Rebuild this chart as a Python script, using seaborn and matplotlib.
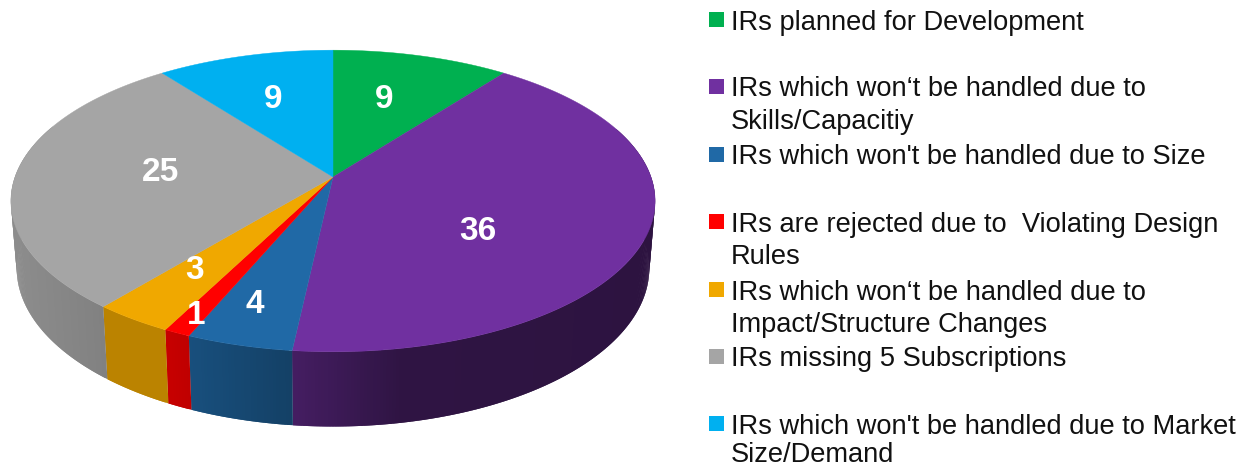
"""
Pie of IR handling outcomes, drawn as a tilted 3D disc with a legend on the right.
"""

import numpy as np
import matplotlib
matplotlib.use("Agg")
import matplotlib.pyplot as plt
from matplotlib.patches import Rectangle
import seaborn as sns

sns.set_theme(style="white")
plt.rcParams["font.family"] = ["Liberation Sans", "DejaVu Sans"]

values = [9, 36, 4, 1, 3, 25, 9]
slice_colors = ["#00b050", "#7030a0", "#2069a6", "#ff0000",
                "#f0a800", "#a5a5a5", "#00b0f0"]
legend_labels = [
    "IRs planned for Development",
    "IRs which won‘t be handled due to\nSkills/Capacitiy",
    "IRs which won't be handled due to Size",
    "IRs are rejected due to  Violating Design\nRules",
    "IRs which won‘t be handled due to\nImpact/Structure Changes",
    "IRs missing 5 Subscriptions",
    "IRs which won't be handled due to Market\nSize/Demand",
]

# disc geometry, in pixels
CX, CY = 333, 177
RX, RY = 318, 147
PERSP = 0.159
WALL_SCALE = 1.05
WALL_DROP = 66
WALL_NARROW = 0.982

# nudges of the value labels away from the 60% radius of each slice
LABEL_OFFSETS = [(-5, -1), (-39, 21), (-26, 33), (-49, 51),
                 (-25, 13), (18, -3), (-4, -1)]
LEGEND_ROWS = [20, 87, 155, 222, 290, 357, 424]


def project(theta, r=1.0):
    """Clockwise angle from 12 o'clock to picture position, with perspective."""
    x = r * np.sin(theta)
    y = r * np.cos(theta)
    d = 1 + PERSP * y
    return CX + RX * x / d, CY - RY * y / d


def wall_point(px, py):
    """Move a rim point down to the bottom edge of the disc."""
    return CX + (px - CX) * WALL_NARROW, CY + (py - CY) * WALL_SCALE + WALL_DROP


def shade(px):
    """Darkening of the side wall from left to right."""
    return np.interp(px, [15, 105, 165, 190, 293, 400, 655],
                     [0.85, 0.78, 0.78, 0.75, 0.61, 0.42, 0.40])


def draw_pie(ax):
    colors = sns.color_palette(slice_colors)
    edges = np.cumsum([0] + values) / sum(values) * 2 * np.pi
    step = np.radians(0.5)

    # side wall first, in thin overlapping strips so no seams show
    for i, color in enumerate(colors):
        starts = np.arange(edges[i], edges[i + 1], step)
        for a in starts:
            if np.cos(a) > 0.35:
                continue
            b = min(a + 2 * step, edges[i + 1])
            x0, y0 = project(a)
            x1, y1 = project(b)
            x2, y2 = wall_point(x1, y1)
            x3, y3 = wall_point(x0, y0)
            c = np.array(color) * shade((x0 + x1) / 2)
            ax.fill([x0, x1, x2, x3], [y0, y1, y2, y3], color=c, lw=0, zorder=1)

    # top face
    for i, color in enumerate(colors):
        theta = np.linspace(edges[i], edges[i + 1], 200)
        x, y = project(theta)
        ax.fill(np.r_[CX, x], np.r_[CY, y], color=color, lw=0.3, zorder=2)

    # value labels
    for i, v in enumerate(values):
        mid = (edges[i] + edges[i + 1]) / 2
        x, y = project(mid, 0.6)
        dx, dy = LABEL_OFFSETS[i]
        ax.text(x + dx, y + dy, str(v), color="white", fontsize=24,
                fontweight="bold", ha="center", va="center", zorder=3)


def draw_legend(ax):
    for label, color, row in zip(legend_labels, slice_colors, LEGEND_ROWS):
        ax.add_patch(Rectangle((709, row - 8), 15, 15, facecolor=color,
                               edgecolor="none", zorder=3))
        for j, line in enumerate(label.split("\n")):
            # keep the last line inside the picture
            baseline = min(row + 9.5 + j * 32.5, 462)
            ax.text(731, baseline, line, color="#111111", fontsize=19.6,
                    ha="left", va="baseline", zorder=3)


def main():
    fig = plt.figure(figsize=(12.41, 4.67), dpi=100)
    ax = fig.add_axes([0, 0, 1, 1])
    ax.set_xlim(0, 1241)
    ax.set_ylim(467, 0)
    ax.axis("off")

    draw_pie(ax)
    draw_legend(ax)

    fig.savefig("out.png", dpi=100)
    plt.close(fig)


if __name__ == "__main__":
    main()
